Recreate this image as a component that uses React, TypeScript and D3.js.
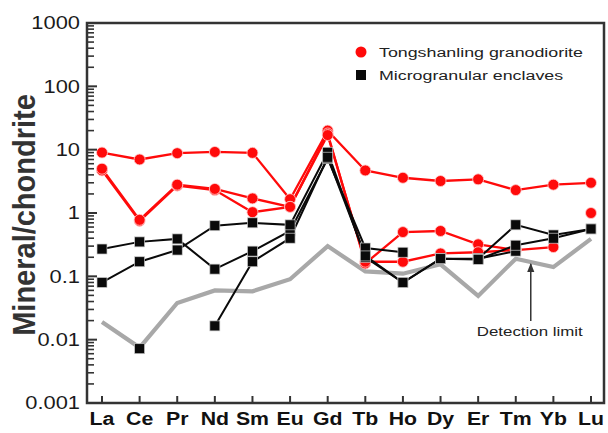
import React from "react";
import * as d3 from "d3";

// Chondrite-normalised REE patterns
const elements = ["La", "Ce", "Pr", "Nd", "Sm", "Eu", "Gd", "Tb", "Ho", "Dy", "Er", "Tm", "Yb", "Lu"];

const granodioriteA = [9.0, 7.0, 8.8, 9.2, 8.9, 1.65, 20, 4.7, 3.6, 3.2, 3.4, 2.3, 2.8, 3.0];
const granodioriteB = [4.7, 0.75, 2.7, 2.3, 1.03, 1.25, 18, 0.16, 0.5, 0.52, 0.32, 0.26, 0.29, null];
const granodioriteC = [5.0, 0.78, 2.8, 2.4, 1.7, 1.25, 17, 0.17, 0.17, 0.23, 0.24, 0.26, null, null];
const granodioriteD = [null, null, null, null, null, null, null, null, null, null, null, null, null, 1.0];

const enclaveA = [0.27, 0.35, 0.39, 0.13, 0.25, 0.52, 7.2, 0.28, 0.24, null, 0.19, 0.25, null, null];
const enclaveB = [0.08, 0.17, 0.26, 0.63, 0.7, 0.65, 9.1, 0.2, 0.08, 0.19, 0.19, 0.65, 0.45, 0.56];
const enclaveC = [null, null, null, 0.0165, 0.17, 0.4, 7.6, 0.21, 0.08, 0.19, 0.185, 0.31, 0.4, 0.56];
const enclaveD = [null, 0.0072, null, null, null, null, null, null, null, null, null, null, null, null];

const detectionLimit = [0.019, 0.0075, 0.038, 0.06, 0.058, 0.09, 0.3, 0.12, 0.11, 0.155, 0.049, 0.19, 0.14, 0.39];

const yTickValues = [0.001, 0.01, 0.1, 1, 10, 100, 1000];
const yTickLabels = ["0.001", "0.01", "0.1", "1", "10", "100", "1000"];

const legendLabels = ["Tongshanling granodiorite", "Microgranular enclaves"];
const annotationText = "Detection limit";

const W = 608;
const H = 433;
const left = 87;
const right = 604;
const top = 23;
const bottom = 403;

const AXIS = "#333";
const RED = "#ff0a0a";
const BLACK = "#0a0a0a";
const FONT = "'Liberation Sans', Arial, sans-serif";

type Pt = { k: string; v: number | null };

export default function App() {
  const x = d3.scalePoint<string>().domain(elements).range([102, 591]);
  const y = d3.scaleLog().domain([0.001, 1000]).range([bottom, top]);

  const toPts = (vals: (number | null)[]): Pt[] => elements.map((k, i) => ({ k, v: vals[i] }));
  const line = d3
    .line<Pt>()
    .defined((d) => d.v != null)
    .x((d) => x(d.k)!)
    .y((d) => y(d.v as number));

  const redSeries = [granodioriteA, granodioriteB, granodioriteC, granodioriteD].map(toPts);
  const blackSeries = [enclaveA, enclaveB, enclaveC, enclaveD].map(toPts);
  const limitPts = toPts(detectionLimit);

  // minor ticks 2..9 in every decade
  const minor: number[] = [];
  for (let e = -3; e < 3; e++) {
    for (let m = 2; m <= 9; m++) minor.push(m * Math.pow(10, e));
  }

  const arrowX = x("Tm")! + 15;
  const arrowTip = y(0.175) + 3;

  return (
    <svg
      width={W}
      height={H}
      style={{ position: "absolute", left: 0, top: 0, background: "#fff" }}
    >
      <defs>
        <marker id="arrowHead" viewBox="0 0 10 10" refX="9" refY="5" markerWidth="6" markerHeight="6" orient="auto">
          <path d="M0,1 L10,5 L0,9 Z" fill="#333" />
        </marker>
      </defs>

      {/* detection limit */}
      <path d={line(limitPts) ?? ""} fill="none" stroke="#a8a8a8" strokeWidth={4.2} strokeLinejoin="miter" />

      {/* granodiorite */}
      {redSeries.map((s, i) => (
        <path key={"rl" + i} d={line(s) ?? ""} fill="none" stroke={RED} strokeWidth={2.3} />
      ))}
      {redSeries.map((s, i) =>
        s
          .filter((d) => d.v != null)
          .map((d) => (
            <circle
              key={"rc" + i + d.k}
              cx={x(d.k)}
              cy={y(d.v as number)}
              r={5.5}
              fill={RED}
              stroke="#ffd0d0"
              strokeWidth={0.8}
            />
          ))
      )}

      {/* enclaves */}
      {blackSeries.map((s, i) => (
        <path key={"bl" + i} d={line(s) ?? ""} fill="none" stroke={BLACK} strokeWidth={2} />
      ))}
      {blackSeries.map((s, i) =>
        s
          .filter((d) => d.v != null)
          .map((d) => (
            <rect
              key={"bs" + i + d.k}
              x={x(d.k)! - 5}
              y={y(d.v as number) - 5}
              width={10}
              height={10}
              fill={BLACK}
              stroke="#cccccc"
              strokeWidth={0.7}
            />
          ))
      )}

      {/* frame */}
      <path
        d={`M${left},${top} L${right},${top} L${right},${bottom} L${left},${bottom} Z`}
        fill="none"
        stroke={AXIS}
        strokeWidth={2.5}
      />

      {/* y ticks */}
      {yTickValues.map((v) => (
        <line key={"ymaj" + v} x1={left} x2={left + 10} y1={y(v)} y2={y(v)} stroke={AXIS} strokeWidth={2} />
      ))}
      {minor.map((v) => (
        <line key={"ymin" + v} x1={left} x2={left + 7} y1={y(v)} y2={y(v)} stroke={AXIS} strokeWidth={1.6} />
      ))}
      {yTickValues.map((v, i) => (
        <text
          key={"yl" + v}
          transform={`translate(80,${y(v)}) scale(1.25,1)`}
          textAnchor="end"
          dy="0.36em"
          fontFamily={FONT}
          fontSize={17.5}
          fill="#1a1a1a"
        >
          {yTickLabels[i]}
        </text>
      ))}

      {/* x ticks */}
      {elements.map((k) => (
        <line key={"xt" + k} x1={x(k)} x2={x(k)} y1={bottom} y2={bottom - 7} stroke={AXIS} strokeWidth={2} />
      ))}
      {elements.map((k) => (
        <text
          key={"xl" + k}
          transform={`translate(${x(k)},425) scale(1.15,1)`}
          textAnchor="middle"
          fontFamily={FONT}
          fontWeight="bold"
          fontSize={18.5}
          fill="#111"
        >
          {k}
        </text>
      ))}

      {/* y axis title */}
      <text
        transform={`translate(35,${(top + bottom) / 2 + 2}) scale(1.05,1) rotate(-90)`}
        textAnchor="middle"
        fontFamily={FONT}
        fontWeight="bold"
        fontSize={29}
        fill="#333"
      >
        Mineral/chondrite
      </text>

      {/* legend */}
      <circle cx={361} cy={52} r={5.5} fill={RED} />
      <text transform="translate(379,57) scale(1.32,1)" fontFamily={FONT} fontSize={13.5} fill="#222">
        {legendLabels[0]}
      </text>
      <rect x={356} y={70} width={10} height={10} fill={BLACK} />
      <text transform="translate(379,80) scale(1.32,1)" fontFamily={FONT} fontSize={13.5} fill="#222">
        {legendLabels[1]}
      </text>

      {/* annotation */}
      <line
        x1={arrowX}
        x2={arrowX}
        y1={321}
        y2={arrowTip}
        stroke="#333"
        strokeWidth={1.5}
        markerEnd="url(#arrowHead)"
      />
      <text
        transform={`translate(${arrowX - 1},336) scale(1.3,1)`}
        textAnchor="middle"
        fontFamily={FONT}
        fontSize={13}
        fill="#222"
      >
        {annotationText}
      </text>
    </svg>
  );
}
